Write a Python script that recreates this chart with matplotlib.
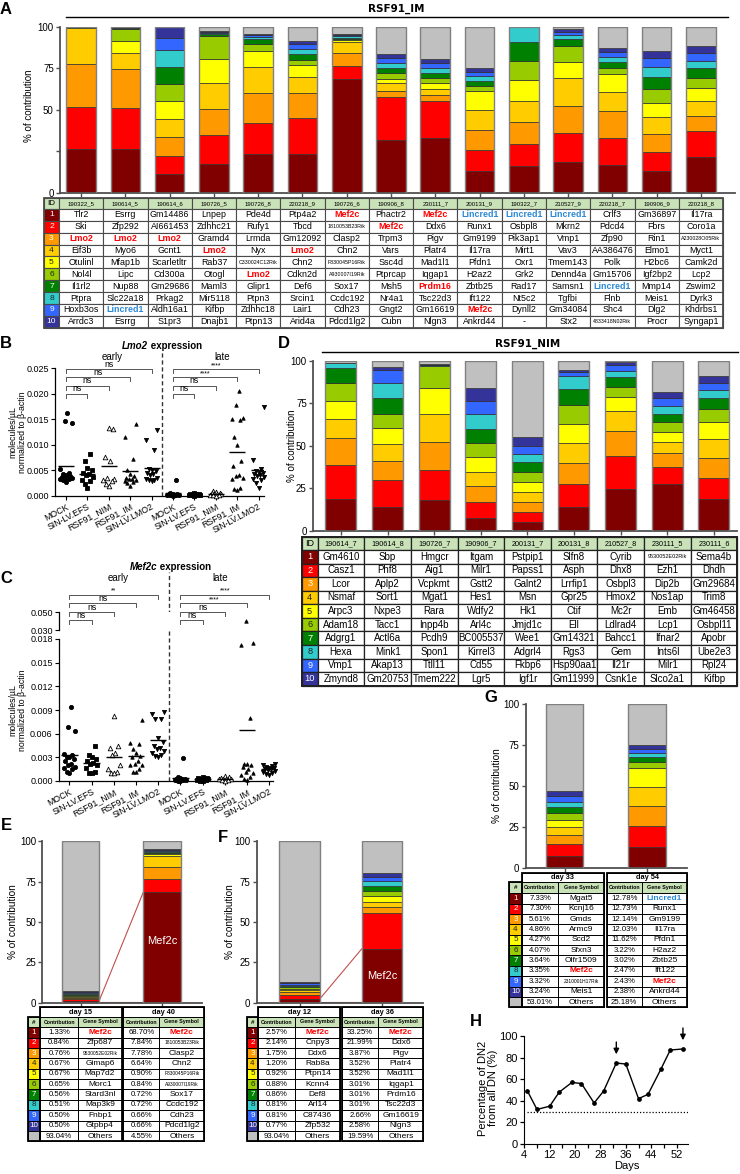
import numpy as np
import matplotlib
matplotlib.use('Agg')
import matplotlib.pyplot as plt
from matplotlib.patches import Rectangle
from matplotlib.lines import Line2D
from matplotlib.ticker import FormatStrFormatter
from matplotlib.textpath import TextPath
from matplotlib.font_manager import FontProperties

# ------------------------------------------------------------------ data
ID_COLORS = ['#800000', '#ff0000', '#ff9900', '#ffcc00', '#ffff00',
             '#99cc00', '#008000', '#33cccc', '#3366ff', '#333399']
OTHER = '#c0c0c0'
ID_TXT = ['white', 'white', 'white', '#222222', '#222222', '#222222',
          'white', '#222222', 'white', 'white']

A_samples = ['190322_5', '190614_5', '190614_6', '190726_5', '190726_8', '220218_9',
             '190726_6', '190906_8', '230111_7', '200131_9', '190322_7', '210527_9',
             '220218_7', '190906_9', '220218_8']
# contribution of ID1..ID10 + others, per sample
A_values = [
    [26.1, 25.7, 25.5, 22.1, 0.1, 0.1, 0.1, 0.1, 0.1, 0.1, 0.0],
    [26.1, 24.9, 23.3, 9.6, 7.7, 7.2, 0.2, 0.2, 0.2, 0.2, 0.4],
    [11.2, 10.9, 11.2, 10.9, 10.8, 10.5, 10.4, 10.2, 7.3, 6.2, 0.4],
    [17.5, 17.2, 15.7, 15.5, 14.4, 14.1, 1.0, 0.6, 0.7, 0.7, 2.6],
    [23.5, 18.7, 17.6, 16.1, 9.6, 4.1, 3.0, 1.4, 0.8, 1.0, 4.2],
    [23.1, 22.1, 14.6, 9.7, 7.2, 3.2, 3.4, 3.4, 2.7, 2.2, 8.4],
    [68.70, 7.84, 7.78, 6.64, 0.90, 0.84, 0.72, 0.72, 0.66, 0.66, 4.55],
    [31.7, 25.7, 4.0, 4.5, 2.8, 3.2, 3.4, 3.0, 2.6, 2.4, 16.7],
    [33.25, 21.99, 3.87, 3.52, 3.52, 3.01, 3.01, 3.01, 2.66, 2.58, 19.59],
    [12.78, 12.73, 12.14, 12.03, 11.62, 3.22, 3.02, 2.47, 2.43, 2.38, 25.18],
    [16.1, 13.0, 13.3, 12.8, 12.7, 11.6, 11.3, 8.8, 0.2, 0.2, 0.0],
    [18.3, 17.4, 16.5, 16.7, 10.0, 9.7, 3.8, 2.4, 1.8, 1.8, 1.6],
    [16.7, 16.2, 16.1, 11.8, 10.7, 3.6, 3.6, 2.8, 3.0, 2.8, 12.7],
    [13.3, 11.0, 11.2, 10.1, 8.2, 8.4, 7.5, 6.2, 5.0, 4.4, 14.7],
    [21.7, 15.4, 9.1, 9.0, 7.7, 6.2, 5.8, 4.6, 4.4, 4.5, 11.6],
]
A_genes = [
    ['Tlr2', 'Ski', 'Lmo2', 'Eif3b', 'Otulinl', 'Nol4l', 'Il1rl2', 'Ptpra', 'Hoxb3os', 'Arrdc3'],
    ['Esrrg', 'Zfp292', 'Lmo2', 'Myo6', 'Mfap1b', 'Lipc', 'Nup88', 'Slc22a18', 'Lincred1', 'Esrrg'],
    ['Gm14486', 'AI661453', 'Lmo2', 'Gcnt1', 'Scarletltr', 'Cd300a', 'Gm29686', 'Prkag2', 'Aldh16a1', 'S1pr3'],
    ['Lnpep', 'Zdhhc21', 'Gramd4', 'Lmo2', 'Rab37', 'Otogl', 'Maml3', 'Mir5118', 'Kifbp', 'Dnajb1'],
    ['Pde4d', 'Rufy1', 'Lrmda', 'Nyx', 'C330024C12Rik', 'Lmo2', 'Glipr1', 'Ptpn3', 'Zdhhc18', 'Ptpn13'],
    ['Ptp4a2', 'Tbcd', 'Gm12092', 'Lmo2', 'Chn2', 'Cdkn2d', 'Def6', 'Srcin1', 'Lair1', 'Arid4a'],
    ['Mef2c', '1810053B23Rik', 'Clasp2', 'Chn2', 'F830045P16Rik', 'A930007I19Rik', 'Sox17', 'Ccdc192', 'Cdh23', 'Pdcd1lg2'],
    ['Phactr2', 'Mef2c', 'Trpm3', 'Vars', 'Ssc4d', 'Ptprcap', 'Msh5', 'Nr4a1', 'Gngt2', 'Cubn'],
    ['Mef2c', 'Ddx6', 'Pigv', 'Platr4', 'Mad1l1', 'Iqgap1', 'Prdm16', 'Tsc22d3', 'Gm16619', 'Nlgn3'],
    ['Lincred1', 'Runx1', 'Gm9199', 'Il17ra', 'Pfdn1', 'H2az2', 'Zbtb25', 'Ift122', 'Mef2c', 'Ankrd44'],
    ['Lincred1', 'Osbpl8', 'Pik3ap1', 'Mirt1', 'Oxr1', 'Grk2', 'Rad17', 'Nt5c2', 'Dynll2', '-'],
    ['Lincred1', 'Mkrn2', 'Vmp1', 'Vav3', 'Tmem143', 'Dennd4a', 'Samsn1', 'Tgfbi', 'Gm34084', 'Stx2'],
    ['Crlf3', 'Pdcd4', 'Zfp90', 'AA386476', 'Polk', 'Gm15706', 'Lincred1', 'Flnb', 'Shc4', '4833418N02Rik'],
    ['Gm36897', 'Fbrs', 'Rin1', 'Elmo1', 'H2bc6', 'Igf2bp2', 'Mmp14', 'Meis1', 'Dlg2', 'Procr'],
    ['Il17ra', 'Coro1a', 'A230028O05Rik', 'Myct1', 'Camk2d', 'Lcp2', 'Zswim2', 'Dyrk3', 'Khdrbs1', 'Syngap1'],
]

D_samples = ['190614_7', '190614_8', '190726_7', '190906_7', '200131_7', '200131_8',
             '210527_8', '230111_5', '230111_6']
D_values = [
    [18.6, 19.8, 15.9, 11.6, 10.6, 10.2, 8.8, 2.9, 0.2, 0.3, 1.1],
    [14.1, 15.7, 11.4, 9.6, 9.4, 8.4, 9.7, 8.4, 7.8, 2.0, 3.5],
    [17.8, 17.9, 16.3, 16.4, 15.4, 12.9, 0.3, 0.2, 0.2, 0.6, 2.0],
    [7.6, 9.5, 9.4, 8.2, 8.4, 8.3, 8.4, 8.6, 7.9, 7.8, 15.9],
    [4.9, 6.3, 5.9, 5.8, 5.5, 5.9, 5.9, 4.9, 4.9, 4.9, 45.1],
    [13.7, 13.6, 12.3, 12.2, 11.1, 11.0, 9.3, 7.8, 2.5, 1.0, 5.5],
    [24.3, 19.6, 14.9, 11.6, 8.4, 5.9, 5.9, 3.5, 3.4, 1.5, 1.0],
    [27.5, 10.1, 7.9, 6.5, 6.2, 5.5, 4.9, 4.7, 4.5, 4.0, 18.2],
    [18.4, 12.4, 11.7, 11.2, 10.4, 7.5, 6.2, 5.0, 4.3, 3.9, 9.0],
]
D_genes = [
    ['Gm4610', 'Casz1', 'Lcor', 'Nsmaf', 'Arpc3', 'Adam18', 'Adgrg1', 'Hexa', 'Vmp1', 'Zmynd8'],
    ['Sbp', 'Phf8', 'Aplp2', 'Sort1', 'Nxpe3', 'Tacc1', 'Actl6a', 'Mink1', 'Akap13', 'Gm20753'],
    ['Hmgcr', 'Aig1', 'Vcpkmt', 'Mgat1', 'Rara', 'Inpp4b', 'Pcdh9', 'Spon1', 'Ttll11', 'Tmem222'],
    ['Itgam', 'Milr1', 'Gstt2', 'Hes1', 'Wdfy2', 'Arl4c', 'BC005537', 'Kirrel3', 'Cd55', 'Lgr5'],
    ['Pstpip1', 'Papss1', 'Galnt2', 'Msn', 'Hk1', 'Jmjd1c', 'Wee1', 'Adgrl4', 'Fkbp6', 'Igf1r'],
    ['Slfn8', 'Asph', 'Lrrfip1', 'Gpr25', 'Ctif', 'Ell', 'Gm14321', 'Rgs3', 'Hsp90aa1', 'Gm11999'],
    ['Cyrib', 'Dhx8', 'Osbpl3', 'Hmox2', 'Mc2r', 'Ldlrad4', 'Bahcc1', 'Gem', 'Il21r', 'Csnk1e'],
    ['9530052E02Rik', 'Ezh1', 'Dip2b', 'Nos1ap', 'Emb', 'Lcp1', 'Ifnar2', 'Ints6l', 'Milr1', 'Slco2a1'],
    ['Sema4b', 'Dhdh', 'Gm29684', 'Trim8', 'Gm46458', 'Osbpl11', 'Apobr', 'Ube2e3', 'Rpl24', 'Kifbp'],
]

groups = ['MOCK', 'SIN-LV.EFS', 'RSF91_NIM', 'RSF91_IM', 'SIN-LV.LMO2']
lmo2_early = [
    [0.0162, 0.0146, 0.0143, 0.0052, 0.0045, 0.0042, 0.0040, 0.0038, 0.0037, 0.0036, 0.0035, 0.0034, 0.0033, 0.0032, 0.0030, 0.0027],
    [0.0081, 0.0068, 0.0055, 0.0050, 0.0045, 0.0042, 0.0040, 0.0036, 0.0030, 0.0028, 0.0022, 0.0015],
    [0.0133, 0.0130, 0.0075, 0.0068, 0.0035, 0.0032, 0.0030, 0.0028, 0.0022, 0.0020],
    [0.0141, 0.0115, 0.0072, 0.0050, 0.0042, 0.0038, 0.0035, 0.0033, 0.0032, 0.0030, 0.0028, 0.0026, 0.0025, 0.0020],
    [0.0128, 0.0110, 0.0090, 0.0052, 0.0050, 0.0048, 0.0045, 0.0042, 0.0040, 0.0035, 0.0032, 0.0030, 0.0030, 0.0028],
]
lmo2_late = [
    [0.0031, 0.0005, 0.0004, 0.0003, 0.0003, 0.0002, 0.0002, 0.0002, 0.0001, 0.0001, 0.0001, 0.0000],
    [0.0005, 0.0004, 0.0003, 0.0003, 0.0002, 0.0002, 0.0001, 0.0001, 0.0001, 0.0000],
    [0.0010, 0.0008, 0.0006, 0.0005, 0.0004, 0.0003, 0.0003, 0.0002, 0.0001, 0.0001, 0.0000],
    [0.0205, 0.0178, 0.0152, 0.0150, 0.0148, 0.0115, 0.0099, 0.0068, 0.0058, 0.0040, 0.0038, 0.0035, 0.0032, 0.0015, 0.0013, 0.0012],
    [0.0174, 0.0070, 0.0052, 0.0048, 0.0046, 0.0045, 0.0043, 0.0040, 0.0038, 0.0036, 0.0033, 0.0030, 0.0025, 0.0015],
]
lmo2_early_sig = ['ns', 'ns', 'ns', 'ns']
lmo2_late_sig = ['ns', 'ns', '****', '****']

mef2c_early = [
    [0.0094, 0.0068, 0.0064, 0.0034, 0.0033, 0.0030, 0.0028, 0.0025, 0.0022, 0.0020, 0.0018, 0.0016, 0.0015, 0.0012, 0.0010, 0.0030],
    [0.0044, 0.0033, 0.0030, 0.0028, 0.0025, 0.0023, 0.0022, 0.0020, 0.0016, 0.0012, 0.0010, 0.0010],
    [0.0082, 0.0044, 0.0042, 0.0035, 0.0033, 0.0020, 0.0015, 0.0012, 0.0010, 0.0010],
    [0.0077, 0.0048, 0.0047, 0.0040, 0.0035, 0.0032, 0.0030, 0.0025, 0.0022, 0.0020, 0.0015, 0.0012, 0.0012, 0.0020],
    [0.0087, 0.0085, 0.0079, 0.0078, 0.0055, 0.0050, 0.0045, 0.0042, 0.0038, 0.0035, 0.0033, 0.0032, 0.0030, 0.0040],
]
mef2c_late = [
    [0.0029, 0.0005, 0.0004, 0.0003, 0.0003, 0.0002, 0.0002, 0.0001, 0.0001, 0.0001, 0.0000, 0.0000],
    [0.0005, 0.0004, 0.0004, 0.0003, 0.0002, 0.0002, 0.0001, 0.0001, 0.0000, 0.0000],
    [0.0006, 0.0005, 0.0004, 0.0003, 0.0003, 0.0002, 0.0002, 0.0001, 0.0001, 0.0000],
    [0.0400, 0.0175, 0.0172, 0.0080, 0.0022, 0.0021, 0.0020, 0.0018, 0.0015, 0.0012, 0.0010, 0.0008, 0.0005, 0.0002, 0.0001],
    [0.0022, 0.0020, 0.0019, 0.0018, 0.0017, 0.0016, 0.0015, 0.0015, 0.0014, 0.0013, 0.0012, 0.0010, 0.0009, 0.0008],
]
mef2c_early_sig = ['ns', 'ns', 'ns', '**']
mef2c_late_sig = ['ns', 'ns', '****', '****']

E_days = ['day 15', 'day 40']
E_d15 = [1.33, 0.84, 0.76, 0.67, 0.67, 0.65, 0.56, 0.51, 0.50, 0.50, 93.04]
E_d15_genes = ['Mef2c', 'Zfp687', '9530052E02Rik', 'Gimap6', 'Map7d2', 'Morc1', 'Stard3nl', 'Map3k9', 'Fnbp1', 'Gtpbp4']
E_d40 = [68.70, 7.84, 7.78, 6.64, 0.90, 0.84, 0.72, 0.72, 0.66, 0.66, 4.55]
E_d40_genes = ['Mef2c', '1810053B23Rik', 'Clasp2', 'Chn2', 'F830045P16Rik', 'A930007I19Rik', 'Sox17', 'Ccdc192', 'Cdh23', 'Pdcd1lg2']

F_days = ['day 12', 'day 36']
F_d12 = [2.57, 2.14, 1.75, 1.20, 0.92, 0.88, 0.86, 0.81, 0.81, 0.77, 93.04]
F_d12_genes = ['Mef2c', 'Cnpy3', 'Ddx6', 'Rab8a', 'Ptpn14', 'Kcnn4', 'Def8', 'Arl14', 'C87436', 'Zfp532']
F_d36 = [33.25, 21.99, 3.87, 3.52, 3.52, 3.01, 3.01, 3.01, 2.66, 2.58, 19.59]
F_d36_genes = ['Mef2c', 'Ddx6', 'Pigv', 'Platr4', 'Mad1l1', 'Iqgap1', 'Prdm16', 'Tsc22d3', 'Gm16619', 'Nlgn3']

G_days = ['day 33', 'day 54']
G_d33 = [7.33, 7.30, 5.61, 4.86, 4.27, 4.07, 3.64, 3.35, 3.32, 3.24, 53.01]
G_d33_genes = ['Mgat5', 'Kcnj16', 'Gmds', 'Armc9', 'Scd2', 'Sfxn3', 'Olfr1509', 'Mef2c', '2310001H17Rik', 'Meis1']
G_d54 = [12.78, 12.73, 12.14, 12.03, 11.62, 3.22, 3.02, 2.47, 2.43, 2.38, 25.18]
G_d54_genes = ['Lincred1', 'Runx1', 'Gm9199', 'Il17ra', 'Pfdn1', 'H2az2', 'Zbtb25', 'Ift122', 'Mef2c', 'Ankrd44']

H_days = [5, 8, 12, 15, 19, 22, 26, 29, 33, 36, 40, 43, 47, 50, 54]
H_dn2 = [49, 32, 35, 48, 57, 56, 38, 49, 75, 74, 42, 46, 69, 87, 88]
H_arrow_days = [33, 54]
H_threshold = 30

# ------------------------------------------------------------------ setup
W, H, DPI = 740, 1174, 100
plt.rcParams['font.family'] = ['Liberation Sans', 'DejaVu Sans']
fig = plt.figure(figsize=(W / DPI, H / DPI), dpi=DPI)
GREEN = '#c9e2b8'
RED = '#ff0000'
BLUE = '#2a88d6'
HL_A = {'Lmo2': RED, 'Mef2c': RED, 'Prdm16': RED, 'Lincred1': BLUE}
HL_EFG = {'Mef2c': RED, 'Lincred1': BLUE}
AXC = '#505050'


def px_axes(x0, y0, x1, y1):
    return fig.add_axes([x0 / W, 1 - y1 / H, (x1 - x0) / W, (y1 - y0) / H])


def ftext(x, y, s, **kw):
    kw.setdefault('ha', 'center')
    kw.setdefault('va', 'center')
    return fig.text(x / W, 1 - y / H, s, **kw)


def fline(x0, x1, y, **kw):
    fig.add_artist(Line2D([x0 / W, x1 / W], [1 - y / H, 1 - y / H], **kw))


def text_w_px(s, fs, weight='normal'):
    tp = TextPath((0, 0), s, size=fs, prop=FontProperties(family='Liberation Sans', weight=weight))
    return tp.get_extents().width * DPI / 72.0


def fit_fs(s, fs, maxw, weight='normal'):
    w = text_w_px(s, fs, weight)
    return fs if w <= maxw else fs * maxw / w


def table_axes(x0, y0, x1, y1):
    ax = px_axes(x0, y0, x1, y1)
    ax.set_xlim(x0, x1)
    ax.set_ylim(y1, y0)
    ax.axis('off')
    return ax


def cell(ax, x0, y0, x1, y1, text='', fc='white', ec='#3a3a3a', lw=0.8,
         color='black', fs=6, weight='normal'):
    ax.add_patch(Rectangle((x0, y0), x1 - x0, y1 - y0, facecolor=fc, edgecolor=ec,
                           linewidth=lw, clip_on=False))
    if text:
        ax.text((x0 + x1) / 2, (y0 + y1) / 2, text, ha='center', va='center',
                fontsize=fs, color=color, weight=weight, clip_on=False)


def gene_text(ax, x, y, g, fs, rik_fs, maxw, highlight):
    color, weight = 'black', 'normal'
    if g in highlight:
        color, weight = highlight[g], 'bold'
    base = rik_fs if g.endswith('Rik') else fs
    f = fit_fs(g, base, maxw, weight)
    ax.text(x, y, g, ha='center', va='center', fontsize=f, color=color,
            weight=weight, clip_on=False)


def stacked(ax, positions, matrix, width):
    arr = np.array(matrix, dtype=float)
    bottoms = np.zeros(len(positions))
    colors = ID_COLORS + [OTHER]
    for k in range(arr.shape[1]):
        ax.bar(positions, arr[:, k], width, bottom=bottoms, color=colors[k],
               edgecolor='#2e2e2e', linewidth=0.5, zorder=2)
        bottoms = bottoms + arr[:, k]
    ax.bar(positions, bottoms, width, fill=False, edgecolor='#808080', linewidth=1.0, zorder=3)


def style_bar_axes(ax, positions, xlim, yticklabels=None, fs=7):
    for s in ['top', 'right']:
        ax.spines[s].set_visible(False)
    for s in ['left', 'bottom']:
        ax.spines[s].set_color(AXC)
        ax.spines[s].set_linewidth(1.3)
    ax.set_xlim(*xlim)
    ax.set_ylim(0, 100)
    ax.set_yticks([0, 25, 50, 75, 100])
    if yticklabels is not None:
        ax.set_yticklabels(yticklabels)
    ax.set_xticks(positions)
    ax.set_xticklabels([])
    ax.tick_params(axis='both', colors=AXC, labelcolor='black', labelsize=fs,
                   length=3, width=1.0, pad=1.5)


def with_others(vals):
    first = list(vals[:10])
    return first + [max(0.0, 100 - sum(first))]


# ------------------------------------------------------------------ panel A
ftext(6, 10, 'A', fontsize=12, weight='bold')
ftext(396, 9, 'RSF91_IM', fontsize=7.5, weight='bold', family='DejaVu Sans')
fline(66, 728, 16.5, color='black', lw=1)
axA = px_axes(60, 26.7, 735, 192.7)
posA = np.arange(len(A_samples))
stacked(axA, posA, A_values, 0.67)
style_bar_axes(axA, posA, (-0.477, 14.77), ['0', '', '50', '75', '100'], fs=7)
ftext(29, 106, '% of contribution', rotation=90, fontsize=7)


def draw_id_table(x0, y0, id_w, col_w, hdr_h, row_h, headers, gene_cols,
                  gene_fs, hdr_fs, rik_fs, highlight, lc, lw):
    n = len(headers)
    x1 = x0 + id_w + col_w * n
    y1 = y0 + hdr_h + row_h * 10
    ax = table_axes(x0, y0, x1, y1)
    cell(ax, x0, y0, x0 + id_w, y0 + hdr_h, 'ID', fc=GREEN, fs=gene_fs - 0.5, ec=lc, lw=lw)
    for j, h in enumerate(headers):
        xa = x0 + id_w + j * col_w
        cell(ax, xa, y0, xa + col_w, y0 + hdr_h, h, fc=GREEN, fs=hdr_fs, ec=lc, lw=lw)
    for r in range(10):
        ya = y0 + hdr_h + r * row_h
        cell(ax, x0, ya, x0 + id_w, ya + row_h, str(r + 1), fc=ID_COLORS[r],
             color=ID_TXT[r], fs=gene_fs - 0.3, ec=lc, lw=lw)
        for j in range(n):
            xa = x0 + id_w + j * col_w
            cell(ax, xa, ya, xa + col_w, ya + row_h, '', ec=lc, lw=lw)
            gene_text(ax, xa + col_w / 2, ya + row_h / 2, gene_cols[j][r],
                      gene_fs, rik_fs, col_w - 2.5, highlight)
    ax.add_patch(Rectangle((x0, y0), x1 - x0, y1 - y0, fill=False, ec=lc,
                           lw=lw * 1.6, clip_on=False))


draw_id_table(44, 198, 15, 44.27, 11, 11.87, A_samples, A_genes,
              6.4, 4.3, 3.8, HL_A, '#4a4a4a', 0.8)

# ------------------------------------------------------------------ panel D
ftext(284, 343.5, 'D', fontsize=12, weight='bold')
ftext(528, 343.5, 'RSF91_NIM', fontsize=7.5, weight='bold', family='DejaVu Sans')
fline(322, 738, 352, color='black', lw=1)
axD = px_axes(313, 360.7, 737, 530.7)
posD = np.arange(len(D_samples))
stacked(axD, posD, D_values, 0.665)
style_bar_axes(axD, posD, (-0.6, 8.5), fs=7)
ftext(292, 446, '% of contribution', rotation=90, fontsize=7)
draw_id_table(301.7, 536.7, 16, 46.62, 13.3, 13.57, D_samples, D_genes,
              7.0, 5.2, 4.0, {}, '#222222', 0.9)

# ------------------------------------------------------------------ panels B & C helpers
MARKERS = ['o', 's', '^', '^', 'v']
MFC = ['black', 'black', 'white', 'black', 'black']
MSIZE = [9, 8, 11, 6, 9]


def swarm_offsets(vals, spread):
    order = np.argsort(vals)
    offs = np.zeros(len(vals))
    pattern = [0, -1, 1, -2, 2, -0.5, 0.5, -1.5, 1.5]
    for rank, idx in enumerate(order):
        offs[idx] = pattern[rank % len(pattern)] * spread
    return offs


def plot_groups(ax, series, ymin=None, ymax=None, means=True):
    for i, vals in enumerate(series):
        vals = np.asarray(vals, dtype=float)
        k = i % 5
        offs = swarm_offsets(vals, 0.13)
        mask = np.ones(len(vals), dtype=bool)
        if ymax is not None:
            mask &= vals <= ymax
        if ymin is not None:
            mask &= vals >= ymin
        if mask.any():
            ax.scatter(i + offs[mask], vals[mask], marker=MARKERS[k], s=MSIZE[k],
                       facecolors=MFC[k], edgecolors='black', linewidths=0.6,
                       clip_on=False, zorder=3)
        if means:
            ax.hlines(vals.mean(), i - 0.37, i + 0.37, color='black', lw=1.0, zorder=4)


def bracket(ax, x0, x1, y, d, label):
    ax.plot([x0, x0, x1, x1], [y - d, y, y, y - d], color='#555555', lw=0.7, clip_on=False)
    fs = 5.0 if '*' in label else 6.3
    ax.text((x0 + x1) / 2, y + d * 0.05, label, ha='center', va='bottom', fontsize=fs,
            clip_on=False)


def style_expr_axes(ax):
    for s in ['top', 'right']:
        ax.spines[s].set_visible(False)
    ax.spines['left'].set_linewidth(0.9)
    ax.spines['bottom'].set_linewidth(0.9)
    ax.tick_params(axis='both', labelsize=6.5, length=3, width=0.8, pad=1.5)
    ax.yaxis.set_major_formatter(FormatStrFormatter('%.3f'))
    ax.set_xticks(range(10))
    ax.set_xticklabels(groups * 2, rotation=28, ha='right', rotation_mode='anchor', fontsize=6.3)


# ------------------------------------------------------------------ panel B
ftext(6, 343.5, 'B', fontsize=12, weight='bold')
ftext(148, 346, 'Lmo2', fontsize=7, weight='bold', style='italic', ha='right')
ftext(148, 346, ' expression', fontsize=7, weight='bold', ha='left')
ftext(112, 357, 'early', fontsize=7)
ftext(222, 357, 'late', fontsize=7)
axB = px_axes(55, 368.2, 264, 495.7)
plot_groups(axB, lmo2_early + lmo2_late)
axB.set_xlim(-0.514, 9.25)
axB.set_ylim(0, 0.025)
axB.set_yticks(np.arange(0, 0.02501, 0.005))
style_expr_axes(axB)
axB.plot([4.5, 4.5], [0, 0.0282], ls=(0, (3, 2)), color='#333333', lw=1, clip_on=False)
b_levels = [0.0200, 0.0216, 0.0232, 0.0248]
for j, lab in enumerate(lmo2_early_sig):
    bracket(axB, 0, j + 1, b_levels[j], 0.0008, lab)
for j, lab in enumerate(lmo2_late_sig):
    bracket(axB, 5, j + 6, b_levels[j], 0.0008, lab)
ftext(18, 432, 'molecules/µL\nnormalized to β-actin', rotation=90, fontsize=6.3, linespacing=1.1)

# ------------------------------------------------------------------ panel C
ftext(6, 578, 'C', fontsize=12, weight='bold')
ftext(157, 567, 'Mef2c', fontsize=7, weight='bold', style='italic', ha='right')
ftext(157, 567, ' expression', fontsize=7, weight='bold', ha='left')
ftext(118, 578, 'early', fontsize=7)
ftext(220, 578, 'late', fontsize=7)
c_xlim = (-0.473, 9.17)
axC = px_axes(59, 639, 273, 781)
axCu = px_axes(59, 612, 273, 630)
plot_groups(axC, mef2c_early + mef2c_late, ymax=0.018)
plot_groups(axCu, mef2c_early + mef2c_late, ymin=0.030, means=False)
axC.set_xlim(*c_xlim)
axC.set_ylim(0, 0.018)
axC.set_yticks(np.arange(0, 0.01801, 0.003))
style_expr_axes(axC)
axCu.set_xlim(*c_xlim)
axCu.set_ylim(0.030, 0.050)
axCu.set_yticks([0.030, 0.050])
for s in ['top', 'right', 'bottom']:
    axCu.spines[s].set_visible(False)
axCu.spines['left'].set_linewidth(0.9)
axCu.set_xticks([])
axCu.tick_params(axis='y', labelsize=6.5, length=3, width=0.8, pad=1.5)
axCu.yaxis.set_major_formatter(FormatStrFormatter('%.3f'))
axC.plot([4.5, 4.5], [0, 0.0265], ls=(0, (3, 2)), color='#333333', lw=1, clip_on=False)
c_levels = [0.0411, 0.0500, 0.0597, 0.0689]
for j, lab in enumerate(mef2c_early_sig):
    bracket(axCu, 0, j + 1, c_levels[j], 0.0044, lab)
for j, lab in enumerate(mef2c_late_sig):
    bracket(axCu, 5, j + 6, c_levels[j], 0.0044, lab)
ftext(18, 710, 'molecules/µL\nnormalized to β-actin', rotation=90, fontsize=6.3, linespacing=1.1)


# ------------------------------------------------------------------ contribution tables
def contrib_table(hx0, hx1, tabs, y0, y1, y2, row_h, highlight):
    xmax = tabs[-1][2]
    ymax = y2 + 11 * row_h
    ax = table_axes(hx0, y0, xmax, ymax)
    cell(ax, hx0, y1, hx1, y2, '#', fc=GREEN, fs=4.5, weight='bold', ec='black', lw=0.7)
    for r in range(11):
        ya = y2 + r * row_h
        if r < 10:
            cell(ax, hx0, ya, hx1, ya + row_h, str(r + 1), fc=ID_COLORS[r],
                 color=ID_TXT[r], fs=5.8, ec='black', lw=0.7)
        else:
            cell(ax, hx0, ya, hx1, ya + row_h, '', fc=OTHER, ec='black', lw=0.7)
    ax.add_patch(Rectangle((hx0, y1), hx1 - hx0, ymax - y1, fill=False, ec='black',
                           lw=1.3, clip_on=False))
    for (xc0, xc1, xg1, title, vals, genes) in tabs:
        cell(ax, xc0, y0, xg1, y1, title, fs=5.3, weight='bold', ec='black', lw=0.7)
        cell(ax, xc0, y1, xc1, y2, 'Contribution', fc=GREEN, fs=3.7, weight='bold', ec='black', lw=0.7)
        cell(ax, xc1, y1, xg1, y2, 'Gene Symbol', fc=GREEN, fs=3.9, weight='bold', ec='black', lw=0.7)
        for r in range(11):
            ya = y2 + r * row_h
            cell(ax, xc0, ya, xc1, ya + row_h, '%.2f%%' % vals[r], fs=5.6, ec='black', lw=0.7)
            cell(ax, xc1, ya, xg1, ya + row_h, '', ec='black', lw=0.7)
            g = genes[r] if r < 10 else 'Others'
            gene_text(ax, (xc1 + xg1) / 2, ya + row_h / 2, g, 6.0, 3.5, xg1 - xc1 - 2, highlight)
        ax.add_patch(Rectangle((xc0, y0), xg1 - xc0, ymax - y0, fill=False, ec='black',
                               lw=1.3, clip_on=False))


def link_lines(ax, w, v0, v1):
    ax.plot([w / 2, 1 - w / 2], [v0, v1], color='#c0504d', lw=0.8, zorder=1)
    ax.plot([w / 2, 1 - w / 2], [0.6, 0.6], color='#c0504d', lw=0.8, zorder=1)


# ------------------------------------------------------------------ panel E
ftext(6, 826, 'E', fontsize=12, weight='bold')
axE = px_axes(42.3, 841.2, 201.7, 1002.7)
wE = 0.456
stacked(axE, [0, 1], [with_others(E_d15), with_others(E_d40)], wE)
style_bar_axes(axE, [0, 1], (-0.474, 1.489), fs=7)
link_lines(axE, wE, E_d15[0], E_d40[0])
axE.text(1, 38, 'Mef2c', color='white', ha='center', va='center', fontsize=8, zorder=5)
ftext(13, 922, '% of contribution', rotation=90, fontsize=7.2)
contrib_table(27.7, 40, [(40, 78.3, 121.7, E_days[0], E_d15, E_d15_genes),
                         (123.3, 159.3, 204.3, E_days[1], E_d40, E_d40_genes)],
              1007.3, 1016.7, 1027.3, 10.36, HL_EFG)

# ------------------------------------------------------------------ panel F
ftext(223, 837, 'F', fontsize=12, weight='bold')
axF = px_axes(256.7, 841.2, 423, 1002.7)
wF = 0.495
stacked(axF, [0, 1], [with_others(F_d12), with_others(F_d36)], wF)
style_bar_axes(axF, [0, 1], (-0.5225, 1.498), fs=7)
link_lines(axF, wF, F_d12[0], F_d36[0])
axF.text(1, F_d36[0] / 2, 'Mef2c', color='white', ha='center', va='center', fontsize=8, zorder=5)
ftext(230, 922, '% of contribution', rotation=90, fontsize=7.2)
contrib_table(246.7, 258.3, [(258.3, 295, 340, F_days[0], F_d12, F_d12_genes),
                             (341.7, 378.3, 423.3, F_days[1], F_d36, F_d36_genes)],
              1007.3, 1016.7, 1027.3, 10.36, HL_EFG)

# ------------------------------------------------------------------ panel G
ftext(491, 697, 'G', fontsize=12, weight='bold')
axG = px_axes(525.7, 704, 687, 868.3)
wG = 0.453
stacked(axG, [0, 1], [with_others(G_d33), with_others(G_d54)], wG)
style_bar_axes(axG, [0, 1], (-0.474, 1.486), fs=7)
ftext(497, 786, '% of contribution', rotation=90, fontsize=7.2)
contrib_table(509.3, 521.7, [(521.7, 558.3, 604, G_days[0], G_d33, G_d33_genes),
                             (606.7, 641.7, 687.3, G_days[1], G_d54, G_d54_genes)],
              872.7, 882.0, 893.3, 10.36, HL_EFG)

# ------------------------------------------------------------------ panel H
ftext(476, 1022, 'H', fontsize=12, weight='bold')
axH = px_axes(524.3, 1036, 687.7, 1144)
axH.plot(H_days, H_dn2, color='black', lw=1.0, marker='o', ms=2.4, zorder=3)
axH.hlines(H_threshold, 5, 55.5, linestyles=(0, (1, 1.5)), color='black', lw=0.9)
axH.set_xlim(4, 55.5)
axH.set_ylim(0, 100)
axH.set_xticks(np.arange(4, 53, 8))
axH.set_xticks(np.arange(8, 56, 8), minor=True)
axH.set_yticks(np.arange(0, 101, 20))
for s in ['top', 'right']:
    axH.spines[s].set_visible(False)
axH.tick_params(axis='both', which='both', labelsize=8, length=3, width=0.9, pad=1.5)
for d in H_arrow_days:
    v = H_dn2[H_days.index(d)]
    axH.annotate('', xy=(d, v + 5.5), xytext=(d, v + 22),
                 arrowprops=dict(arrowstyle='-|>', color='black', lw=1.0, mutation_scale=8),
                 annotation_clip=False)
ftext(488, 1088, 'Percentage of DN2\nfrom all DN (%)', rotation=90, fontsize=8, linespacing=1.05)
ftext(627, 1166, 'Days', fontsize=8)

fig.savefig('out.png', dpi=DPI)
